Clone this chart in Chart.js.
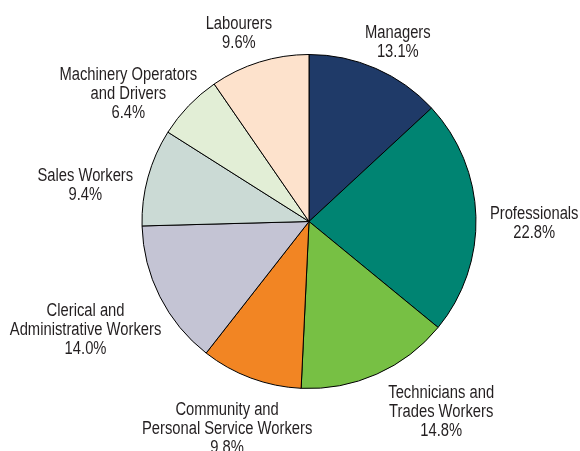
<!DOCTYPE html>
<html>
<head>
<meta charset="utf-8">
<script src="https://cdn.jsdelivr.net/npm/chart.js@4/dist/chart.umd.min.js"></script>
<style>
  html, body { margin: 0; padding: 0; background: #ffffff; }
  #wrap { width: 580px; height: 451px; position: relative; }
</style>
</head>
<body>
<div id="wrap"><canvas id="chart" width="580" height="451"></canvas></div>
<script>
// Employment by occupation, share of total (%)
const categories = [
  ['Managers'],
  ['Professionals'],
  ['Technicians and', 'Trades Workers'],
  ['Community and', 'Personal Service Workers'],
  ['Clerical and', 'Administrative Workers'],
  ['Sales Workers'],
  ['Machinery Operators', 'and Drivers'],
  ['Labourers']
];
const shares = [13.1, 22.8, 14.8, 9.8, 14.0, 9.4, 6.4, 9.6];
const sliceColors = ['#1f3a68', '#008472', '#77c044', '#f28523', '#c4c4d4', '#cbdad5', '#e2eed6', '#fde2cc'];

// small hand adjustments to each label block (px), on top of the radial placement
const labelNudge = [[4, 2], [2, 8], [38, 1], [10, 13], [4, 15], [-5, 17], [-2, 16], [-7, 1]];

// narrow sans: regular face squeezed horizontally
const FONT = '18px "Liberation Sans", Arial, sans-serif';
const SQUEEZE = 0.82;
const LINE_H = 19;
const GAP = 12;

const outsideLabels = {
  id: 'outsideLabels',
  afterDatasetsDraw(chart) {
    const ctx = chart.ctx;
    const meta = chart.getDatasetMeta(0);
    ctx.save();
    ctx.font = FONT;
    ctx.fillStyle = '#231f20';
    ctx.textAlign = 'center';
    ctx.textBaseline = 'middle';
    meta.data.forEach((arc, i) => {
      const p = arc.getProps(['x', 'y', 'startAngle', 'endAngle', 'outerRadius'], true);
      const mid = (p.startAngle + p.endAngle) / 2;
      const c = Math.cos(mid), s = Math.sin(mid);
      const lines = categories[i].concat([shares[i].toFixed(1) + '%']);
      const w = Math.max(...lines.map(t => ctx.measureText(t).width)) * SQUEEZE;
      const h = lines.length * LINE_H;
      const r = p.outerRadius + GAP;
      const cx = p.x + r * c + c * w / 2 + labelNudge[i][0];
      const cy = p.y + r * s + s * h / 2 + labelNudge[i][1];
      lines.forEach((t, k) => {
        ctx.save();
        ctx.translate(cx, cy - h / 2 + LINE_H * (k + 0.5));
        ctx.scale(SQUEEZE, 1);
        ctx.fillText(t, 0, 0);
        ctx.restore();
      });
    });
    ctx.restore();
  }
};

new Chart(document.getElementById('chart'), {
  type: 'pie',
  data: {
    labels: categories.map(l => l.join(' ')),
    datasets: [{
      data: shares,
      backgroundColor: sliceColors,
      borderColor: '#000000',
      borderWidth: 1
    }]
  },
  options: {
    responsive: false,
    animation: false,
    layout: { padding: { top: 54, bottom: 62, left: 141.5, right: 103.5 } },
    plugins: {
      legend: { display: false },
      tooltip: { enabled: false }
    }
  },
  plugins: [outsideLabels]
});
</script>
</body>
</html>
